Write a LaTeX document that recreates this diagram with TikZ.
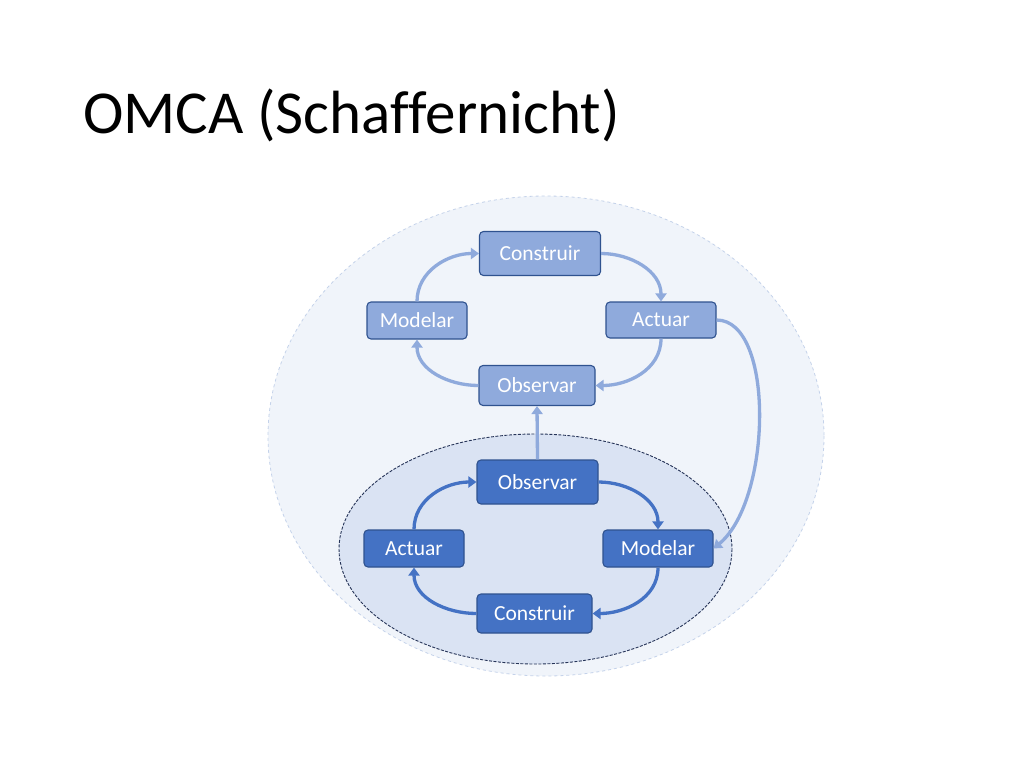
\documentclass[tikz,border=0pt]{standalone}
\usepackage{fontspec}
\setmainfont{Carlito}[Ligatures=NoCommon]
\usetikzlibrary{arrows.meta}
\definecolor{outerfill}{RGB}{240,244,250}
\definecolor{outerdraw}{RGB}{196,210,234}
\definecolor{innerfill}{RGB}{218,227,243}
\definecolor{innerdraw}{RGB}{38,52,88}
\definecolor{lightbox}{RGB}{143,170,220}
\definecolor{darkbox}{RGB}{68,114,196}
\definecolor{boxborder}{RGB}{47,82,143}
\tikzset{
  box/.style={draw=boxborder, line width=1.1pt, rounded corners=4pt, text=white,
    font=\fontsize{21.5}{25}\selectfont, inner sep=0pt},
  lbox/.style={box, fill=lightbox},
  dbox/.style={box, fill=darkbox},
  larrow/.style={draw=lightbox, line width=3.3pt, -{Triangle[width=11pt,length=8pt]}},
  darrow/.style={draw=darkbox, line width=3.3pt, -{Triangle[width=11pt,length=8pt]}},
}
\begin{document}
\begin{tikzpicture}[x=1pt,y=-1pt]
\useasboundingbox (0,0) rectangle (1024,768);
\fill[white] (0,0) rectangle (1024,768);
% title
\node[anchor=base west, inner sep=0pt, font=\fontsize{61}{68}\selectfont] (title) at (83,133) {OMCA (Schaffernicht)};
% ellipses
\fill[outerfill] (546,436) ellipse [x radius=278, y radius=240];
\draw[outerdraw, dashed, line width=0.8pt] (546,436) ellipse [x radius=278, y radius=240];
\fill[innerfill] (535.5,549) ellipse [x radius=196.5, y radius=115];
\draw[innerdraw, dash pattern=on 3pt off 1.5pt, line width=0.9pt] (535.5,549) ellipse [x radius=196.5, y radius=115];
% top cycle
\node[lbox, minimum width=121pt, minimum height=44pt] (cT) at (540,253.5) {Construir};
\node[lbox, minimum width=100pt, minimum height=37pt] (mT) at (417,320.5) {Modelar};
\node[lbox, minimum width=110pt, minimum height=36pt] (aT) at (661,320) {Actuar};
\node[lbox, minimum width=116pt, minimum height=40pt] (oT) at (537,385.5) {Observar};
% bottom cycle
\node[dbox, minimum width=121pt, minimum height=44pt] (oB) at (537.5,482) {Observar};
\node[dbox, minimum width=100pt, minimum height=37pt] (aB) at (414,548.5) {Actuar};
\node[dbox, minimum width=110pt, minimum height=37pt] (mB) at (658,548.5) {Modelar};
\node[dbox, minimum width=115pt, minimum height=39pt] (cB) at (534.5,613.5) {Construir};
% top arrows
\draw[larrow] (cT.east) to[out=0,in=90] (aT.north);
\draw[larrow] (aT.south) to[out=-90,in=0] (oT.east);
\draw[larrow] (oT.west) to[out=180,in=-90] (mT.south);
\draw[larrow] (mT.north) to[out=90,in=180] (cT.west);
% bottom arrows
\draw[darrow] (oB.east) to[out=0,in=90] (mB.north);
\draw[darrow] (mB.south) to[out=-90,in=0] (cB.east);
\draw[darrow] (cB.west) to[out=180,in=-90] (aB.south);
\draw[darrow] (aB.north) to[out=90,in=180] (oB.west);
% links
\draw[larrow] (oB.north) -- (oT.south);
\draw[larrow] (aT.east) .. controls (775,320) and (772,500) .. (mB.east);
\end{tikzpicture}
\end{document}
